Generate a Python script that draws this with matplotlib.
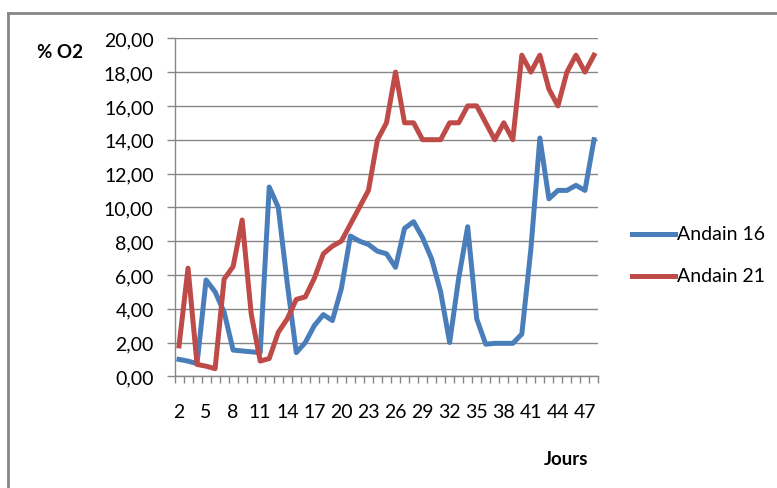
import numpy as np
import matplotlib.pyplot as plt
from matplotlib.lines import Line2D

jours = list(range(2, 49))

andain_16 = [1.0, 0.9, 0.75, 5.7, 5.0, 3.8, 1.55, 1.5, 1.45, 1.4,
             11.2, 10.0, 5.5, 1.4, 2.0, 3.0, 3.65, 3.3, 5.2, 8.3,
             8.0, 7.8, 7.4, 7.25, 6.45, 8.75, 9.15, 8.2, 6.95, 5.0,
             2.0, 5.8, 8.85, 3.4, 1.9, 1.95, 1.95, 1.95, 2.5, 7.5,
             14.1, 10.5, 11.0, 11.0, 11.3, 11.0, 14.0]

andain_21 = [1.8, 6.4, 0.7, 0.6, 0.45, 5.75, 6.5, 9.25, 3.7, 0.9,
             1.05, 2.6, 3.4, 4.55, 4.7, 5.8, 7.25, 7.7, 8.0, 9.0,
             10.0, 11.0, 14.0, 15.0, 18.0, 15.0, 15.0, 14.0, 14.0, 14.0,
             15.0, 15.0, 16.0, 16.0, 15.0, 14.0, 15.0, 14.0, 19.0, 18.0,
             19.0, 17.0, 16.0, 18.0, 19.0, 18.0, 19.0]

series_names = ["Andain 16", "Andain 21"]
y_ticks = np.arange(0, 21, 2)

blue = "#4A7EBB"
red = "#BE4B48"
grey = "#868686"
plt.rcParams["font.family"] = ["Lato", "DejaVu Sans"]

W, H = 777, 489
fig = plt.figure(figsize=(W / 100, H / 100), dpi=100)
ax = fig.add_axes([174.5 / W, 1 - 377.3 / H, 424 / W, 338 / H])

x = np.arange(len(jours))
ax.plot(x, andain_16, color=blue, lw=3.6, solid_joinstyle="round", zorder=3)
ax.plot(x, andain_21, color=red, lw=3.6, solid_joinstyle="round", zorder=3)

ax.set_xlim(-0.5, len(jours) - 0.5)
ax.set_ylim(0, 20)
ax.set_yticks(y_ticks)
ax.set_yticklabels([f"{v:.2f}".replace(".", ",") for v in y_ticks], fontsize=14)
ax.tick_params(axis="y", direction="out", length=6, width=1, color=grey, pad=9)
ax.yaxis.grid(True, color=grey, lw=1)
ax.set_axisbelow(True)

ax.set_xticks(x[::3])
ax.set_xticklabels([str(j) for j in jours[::3]], fontsize=14)
ax.set_xticks(np.arange(-0.5, len(jours), 1), minor=True)
ax.tick_params(axis="x", which="major", length=0, pad=19)
ax.tick_params(axis="x", which="minor", direction="out", length=5, width=1, color=grey)

for side in ["top", "right"]:
    ax.spines[side].set_visible(False)
for side in ["left", "bottom"]:
    ax.spines[side].set_color(grey)
    ax.spines[side].set_linewidth(1)

fig.text(37 / W, 1 - 53 / H, "% O2", fontsize=13.5, fontweight="bold", va="center", ha="left")
fig.text(566 / W, 1 - 460 / H, "Jours", fontsize=13.5, fontweight="bold", va="center", ha="center")

# legend, placed by hand
for name, col, yy in zip(series_names, [blue, red], [235, 277]):
    fig.add_artist(Line2D([632 / W, 675 / W], [1 - yy / H] * 2, color=col, lw=3.6,
                          transform=fig.transFigure))
    fig.text(677 / W, 1 - yy / H, name, fontsize=14, va="center", ha="left")

# chart border (top and left only visible)
fig.add_artist(Line2D([8 / W, 1], [1 - 14 / H, 1 - 14 / H], color=grey, lw=2, transform=fig.transFigure))
fig.add_artist(Line2D([8 / W, 8 / W], [0, 1 - 14 / H], color=grey, lw=2, transform=fig.transFigure))

fig.savefig("out.png", dpi=100)
